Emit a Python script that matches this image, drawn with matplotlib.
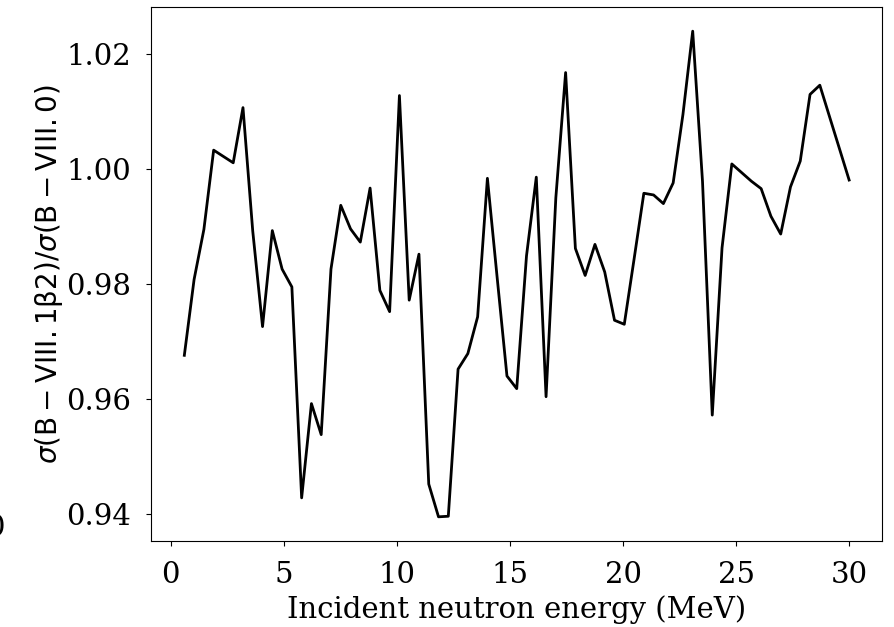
import matplotlib
matplotlib.use("Agg")
import matplotlib.pyplot as plt

plt.rcParams["font.family"] = ["DejaVu Serif"]
plt.rcParams["mathtext.fontset"] = "dejavusans"

# incident neutron energy (MeV)
energy = [0.600, 1.032, 1.465, 1.897, 2.329, 2.762, 3.194, 3.626, 4.059, 4.491,
          4.924, 5.356, 5.788, 6.221, 6.653, 7.085, 7.518, 7.950, 8.382, 8.815,
          9.247, 9.679, 10.112, 10.544, 10.976, 11.409, 11.841, 12.274, 12.706, 13.138,
          13.571, 14.003, 14.435, 14.868, 15.300, 15.732, 16.165, 16.597, 17.029, 17.462,
          17.894, 18.326, 18.759, 19.191, 19.624, 20.056, 20.488, 20.921, 21.353, 21.785,
          22.218, 22.650, 23.082, 23.515, 23.947, 24.379, 24.812, 25.244, 25.676, 26.109,
          26.541, 26.974, 27.406, 27.838, 28.271, 28.703, 29.135, 29.568, 30.000]

# cross section ratio VIII.1b2 / VIII.0
ratio = [0.9676, 0.9808, 0.9895, 1.0033, 1.0022, 1.0011, 1.0107, 0.9892, 0.9726, 0.9893,
         0.9826, 0.9795, 0.9428, 0.9592, 0.9538, 0.9826, 0.9937, 0.9896, 0.9873, 0.9967,
         0.9789, 0.9752, 1.0128, 0.9772, 0.9852, 0.9452, 0.9395, 0.9396, 0.9652, 0.9679,
         0.9743, 0.9984, 0.9811, 0.9640, 0.9618, 0.9849, 0.9986, 0.9604, 0.9950, 1.0168,
         0.9862, 0.9815, 0.9869, 0.9821, 0.9737, 0.9730, 0.9843, 0.9958, 0.9955, 0.9940,
         0.9976, 1.0095, 1.0240, 0.9979, 0.9572, 0.9863, 1.0009, 0.9994, 0.9979, 0.9966,
         0.9918, 0.9887, 0.9969, 1.0014, 1.0130, 1.0146, 1.0091, 1.0036, 0.9981]

fig = plt.figure(figsize=(8.94, 6.27), dpi=100)
ax = fig.add_axes([0.169, 0.137, 0.818, 0.852])
ax.plot(energy, ratio, color="black", linewidth=2)

ax.set_xticks([0, 5, 10, 15, 20, 25, 30])
ax.set_yticks([0.94, 0.96, 0.98, 1.00, 1.02])
ax.tick_params(labelsize=21, pad=11)
ax.set_xlabel("Incident neutron energy (MeV)", fontsize=21, labelpad=4)
ax.set_ylabel(r"$\sigma(\mathrm{B-VIII.1\beta2})/\sigma(\mathrm{B-VIII.0})$", fontsize=20, labelpad=1)

# leftover glyph clipped at the left edge
fig.text(0.005, 0.158, "0", ha="right", va="center", fontsize=21)

fig.savefig("out.png", dpi=100)
